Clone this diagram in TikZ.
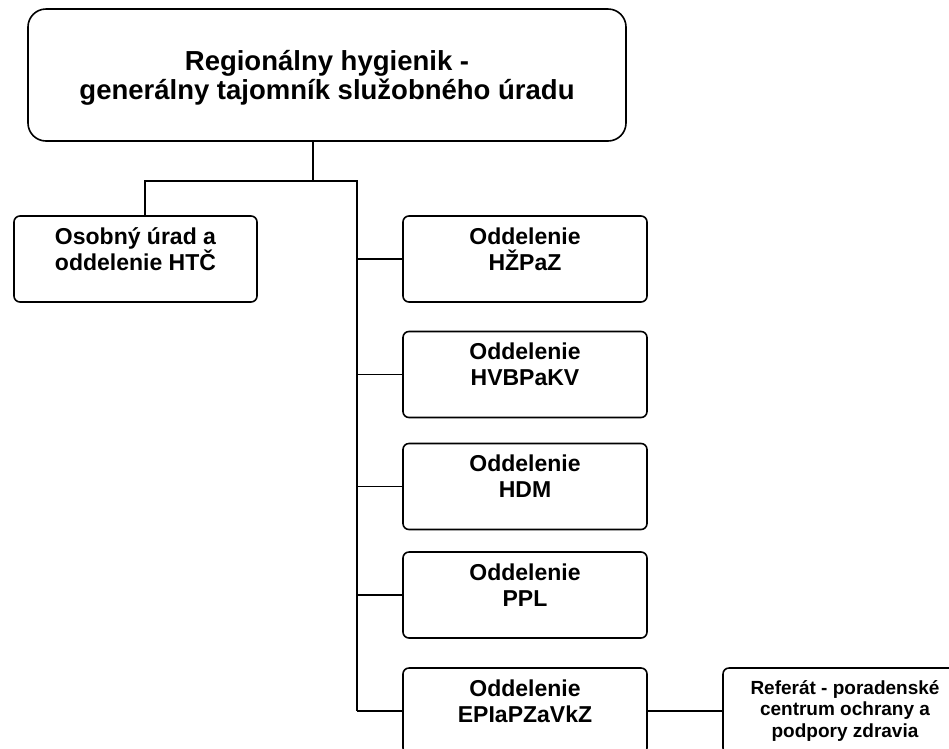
\documentclass[tikz,border=0pt]{standalone}
\usepackage{fontspec}
\setmainfont{Liberation Sans}
\usetikzlibrary{positioning}

\tikzset{
  unit/.style={draw, line width=1.6pt, rounded corners=6pt, align=center,
    minimum width=244pt, minimum height=86pt, text depth=20pt,
    font=\bfseries\fontsize{23}{26}\selectfont},
  link/.style={line width=1.6pt}
}

\begin{document}
\begin{tikzpicture}[x=1pt, y=-1pt]
    \useasboundingbox (0,0) rectangle (949,748);
    \clip (0,0) rectangle (949,748);

    \node[draw, line width=1.6pt, rounded corners=18pt, align=center,
          minimum width=598pt, minimum height=132pt, text depth=-4pt,
          font=\bfseries\fontsize{27.5}{29.5}\selectfont] (head) at (327,75)
          {Regionálny hygienik -\\generálny tajomník služobného úradu};

    \node[unit, minimum width=243pt] (osob) at (135.5,259) {Osobný úrad a\\oddelenie HTČ};

    \node[unit] (hzp) at (525,259) {Oddelenie\\HŽPaZ};
    \node[unit] (hvb) at (525,374.5) {Oddelenie\\HVBPaKV};
    \node[unit] (hdm) at (525,486.5) {Oddelenie\\HDM};
    \node[unit] (ppl) at (525,595) {Oddelenie\\PPL};
    \node[unit] (epi) at (525,711) {Oddelenie\\EPIaPZaVkZ};

    \node[unit, text depth=4pt, font=\bfseries\fontsize{19}{21.5}\selectfont] (ref) at (845,711)
          {Referát - poradenské\\centrum ochrany a\\podpory zdravia};

    % joints of the tree
    \coordinate (top) at (313,181);
    \coordinate (lft) at (145,181);
    \coordinate (trunk) at (357,181);

    \draw[link] (head.south -| top) -- (top);
    \draw[link] (osob.north -| lft) -- (lft) -- (trunk) -- (trunk |- epi.west);
    \foreach \d in {hzp,hvb,hdm,ppl,epi}
        \draw[link] (trunk |- \d.west) -- (\d.west);
    \draw[link] (epi.east) -- (ref.west);
\end{tikzpicture}
\end{document}
